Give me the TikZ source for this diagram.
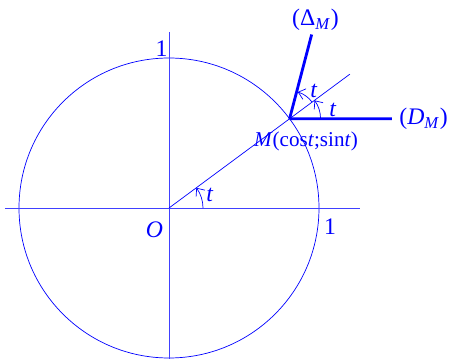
\documentclass[tikz,border=0pt]{standalone}
\usepackage{fontspec}
\setmainfont{Liberation Serif}
\usetikzlibrary{arrows.meta}
\newcommand{\ang}{36.5}

\begin{document}
\begin{tikzpicture}[>={Straight Barb[length=1.3mm,width=2.2mm]}, blue,
  font=\fontsize{13.5}{16}\selectfont, tangent/.style={line width=1.6pt},
  axis/.style={line width=0.55pt, blue!75}]
  \useasboundingbox (-3.38,-3.02) rectangle (5.64,4.16);
  \coordinate (O) at (0,0);
  \coordinate (M) at (\ang:3);
  \coordinate (P) at (\ang:4.5);
  \coordinate (xl) at (-3.28,0);
  \coordinate (xr) at (3.82,0);
  \coordinate (yb) at (0,-3.02);
  \coordinate (yt) at (0,3.52);
  \draw (O) circle (3);
  \draw[axis] (xl) -- (xr);
  \draw[axis] (yb) -- (yt);
  \draw (O) -- (P);
  \node (o) at (-0.29,-0.43) {\textit{O}};
  \node (one x) at (3.22,-0.37) {1};
  \node (one y) at (-0.15,3.19) {1};
  \node[font=\fontsize{12}{14}\selectfont] (mlab) at (2.74,1.34) {\textit{M}(cos\textit{t};sin\textit{t})};
  \node[anchor=west, inner sep=4pt] (dm) at (4.46,1.785) {(\textit{D}\textsubscript{\textit{M}})};
  \node[anchor=south, inner sep=2pt] (deltam) at (2.93,3.47) {(Δ\textsubscript{\textit{M}})};
  \draw[tangent] (M) -- (dm);
  \draw[tangent] (M) -- (deltam);
  \draw[->] (0.68,0) arc[start angle=0, end angle=\ang, radius=0.68];
  \draw[->] ([xshift=0.62cm]M) arc[start angle=0, end angle=\ang, radius=0.62];
  \draw[->] ([shift={(\ang:0.56)}]M) arc[start angle=\ang, end angle=2*\ang, radius=0.56];
  \node (t o) at (0.82,0.26) {\textit{t}};
  \node (t d) at (3.28,1.96) {\textit{t}};
  \node (t delta) at (2.9,2.34) {\textit{t}};
\end{tikzpicture}
\end{document}
